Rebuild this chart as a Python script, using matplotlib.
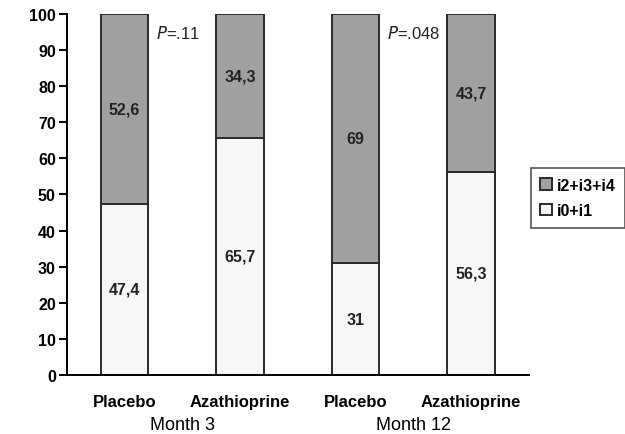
import numpy as np
import matplotlib
matplotlib.use('Agg')
from matplotlib import pyplot as plt

plt.rcParams['font.family'] = ['Liberation Sans', 'DejaVu Sans']

groups = ['Placebo', 'Azathioprine', 'Placebo', 'Azathioprine']
months = ['Month 3', 'Month 12']
low = [47.4, 65.7, 31, 56.3]      # i0+i1
high = [52.6, 34.3, 69, 43.7]     # i2+i3+i4
low_txt = ['47,4', '65,7', '31', '56,3']
high_txt = ['52,6', '34,3', '69', '43,7']
pvals = ['=.11', '=.048']

fig = plt.figure(figsize=(6.25, 4.35), dpi=100)
ax = fig.add_axes([0.107, 0.1356, 0.739, 0.83])

x = np.arange(len(groups)) + 0.5
w = 0.41
b1 = ax.bar(x, low, w, color='#f7f7f7', edgecolor='#2a2a2a', linewidth=1.4, label='i0+i1')
b2 = ax.bar(x, high, w, bottom=low, color='#a0a0a0', edgecolor='#2a2a2a', linewidth=1.4, label='i2+i3+i4')

for i in range(len(groups)):
    ax.text(x[i], low[i] / 2, low_txt[i], ha='center', va='center', fontsize=11.5, fontweight='bold', color='#222222')
    ax.text(x[i], low[i] + high[i] / 2, high_txt[i], ha='center', va='center', fontsize=11.5, fontweight='bold', color='#222222')

# P values
for j, p in enumerate(pvals):
    ax.text(x[2 * j] + 0.27, 95, '$P$' + p, ha='left', va='center', fontsize=12, color='#222222')

ax.set_xlim(0, 4)
ax.set_ylim(0, 100)
ax.set_yticks(range(0, 101, 10))
ax.tick_params(axis='y', direction='out', length=6, width=1.4, labelsize=11.5, pad=2)
for t in ax.get_yticklabels():
    t.set_fontweight('bold')
ax.set_xticks(x)
ax.set_xticklabels(groups, fontsize=12, fontweight='bold')
ax.tick_params(axis='x', length=0, pad=14)
for j, m in enumerate(months):
    ax.text((x[2 * j] + x[2 * j + 1]) / 2, -0.137, m, transform=ax.get_xaxis_transform(),
            ha='center', va='center', fontsize=13)

ax.spines['top'].set_visible(False)
ax.spines['right'].set_visible(False)
ax.spines['left'].set_linewidth(1.4)
ax.spines['bottom'].set_linewidth(1.4)

leg = ax.legend(handles=[b2, b1], loc='upper left', bbox_to_anchor=(1.004, 0.573),
                frameon=True, fancybox=False, edgecolor='#2a2a2a', fontsize=11.5,
                handlelength=0.75, handleheight=0.75, handletextpad=0.3, borderpad=0.6,
                labelspacing=0.65, borderaxespad=0)
leg.get_frame().set_linewidth(1.2)
for t in leg.get_texts():
    t.set_fontweight('bold')

plt.savefig('out.png', dpi=100)
